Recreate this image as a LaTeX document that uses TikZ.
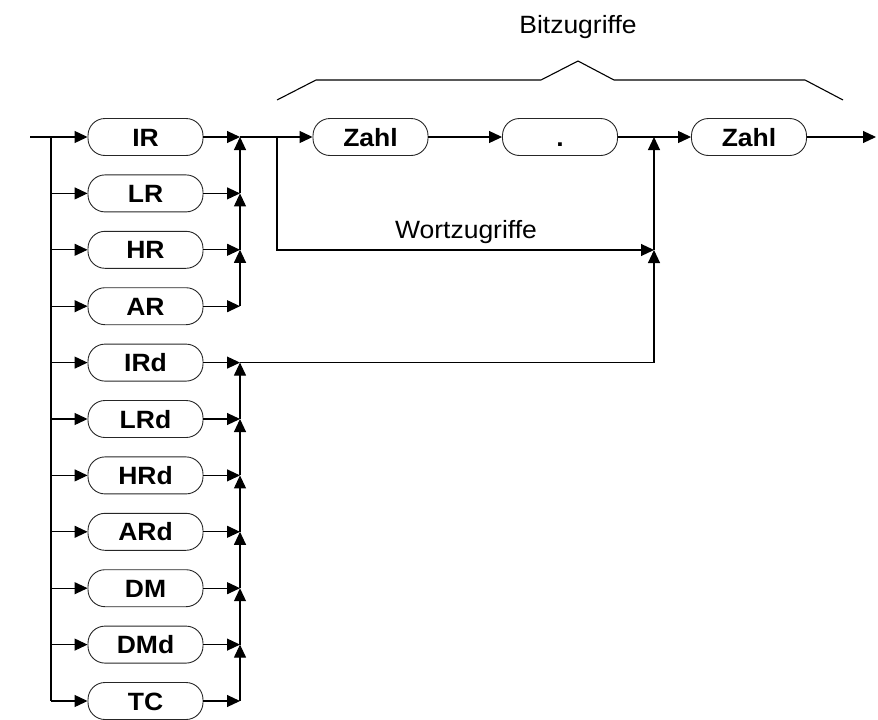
\documentclass[tikz,border=0pt]{standalone}
\usepackage{fontspec}
\setmainfont[FakeStretch=1.06]{Liberation Sans}
\usetikzlibrary{arrows.meta}

\begin{document}
\begin{tikzpicture}[x=1pt, y=-1pt,
  term/.style={draw=black!85, line width=0.9pt, rounded corners=17pt,
               minimum width=115pt, minimum height=37pt, inner sep=0pt,
               text height=18pt, text depth=0pt,
               font=\fontsize{25}{30}\selectfont\bfseries},
  line/.style={line width=1.1pt},
  edge/.style={line width=1.1pt, -{Triangle[length=13pt,width=12pt]}},
  lbl/.style={anchor=base, font=\fontsize{25}{30}\selectfont},
]
\useasboundingbox (0,0) rectangle (878,720);

% register alternatives
\foreach \name [count=\i from 0] in {IR,LR,HR,AR,IRd,LRd,HRd,ARd,DM,DMd,TC} {
  \node[term] (\name) at (145.5, 137+56.4*\i) {\name};
  \coordinate (in\name)  at (51,  137+56.4*\i);
  \coordinate (out\name) at (240, 137+56.4*\i);
  \draw[edge] (in\name) -- (\name);
  \draw[edge] (\name) -- (out\name);
}

\coordinate (start) at (30,137);
\draw[line] (start) -- (inIR) -- (inTC);

% collecting lines
\foreach \a/\b in {AR/HR, HR/LR, LR/IR, TC/DMd, DMd/DM, DM/ARd, ARd/HRd, HRd/LRd, LRd/IRd}
  \draw[edge] (out\a) -- (out\b);

% bit access
\node[term] (zahlA) at (370.5,137) {Zahl};
\node[term] (dot)   at (560,137)   {.};
\node[term] (zahlB) at (749,137)   {Zahl};

\coordinate (split) at (277,137);
\coordinate (merge) at (654,137);
\coordinate (wort)  at (654,250);
\coordinate (exit)  at (876,137);

\draw[line] (outIR) -- (split);
\draw[edge] (split) -- (zahlA);
\draw[edge] (zahlA) -- (dot);
\draw[line] (dot)   -- (merge);
\draw[edge] (merge) -- (zahlB);
\draw[edge] (zahlB) -- (exit);
\draw[edge] (split) |- (wort);
\draw[edge] (wort)  -- (merge);
\draw[edge] (outIRd) -| (wort);

% brace over the bit access
\draw[line] (277,100) -- (316,80) -- (541,80) -- (578,61) -- (614,80)
  -- (805,80) -- (843,100);

\node[lbl] (bitz)  at (578,33)  {Bitzugriffe};
\node[lbl] (wortz) at (466,238) {Wortzugriffe};
\end{tikzpicture}
\end{document}
